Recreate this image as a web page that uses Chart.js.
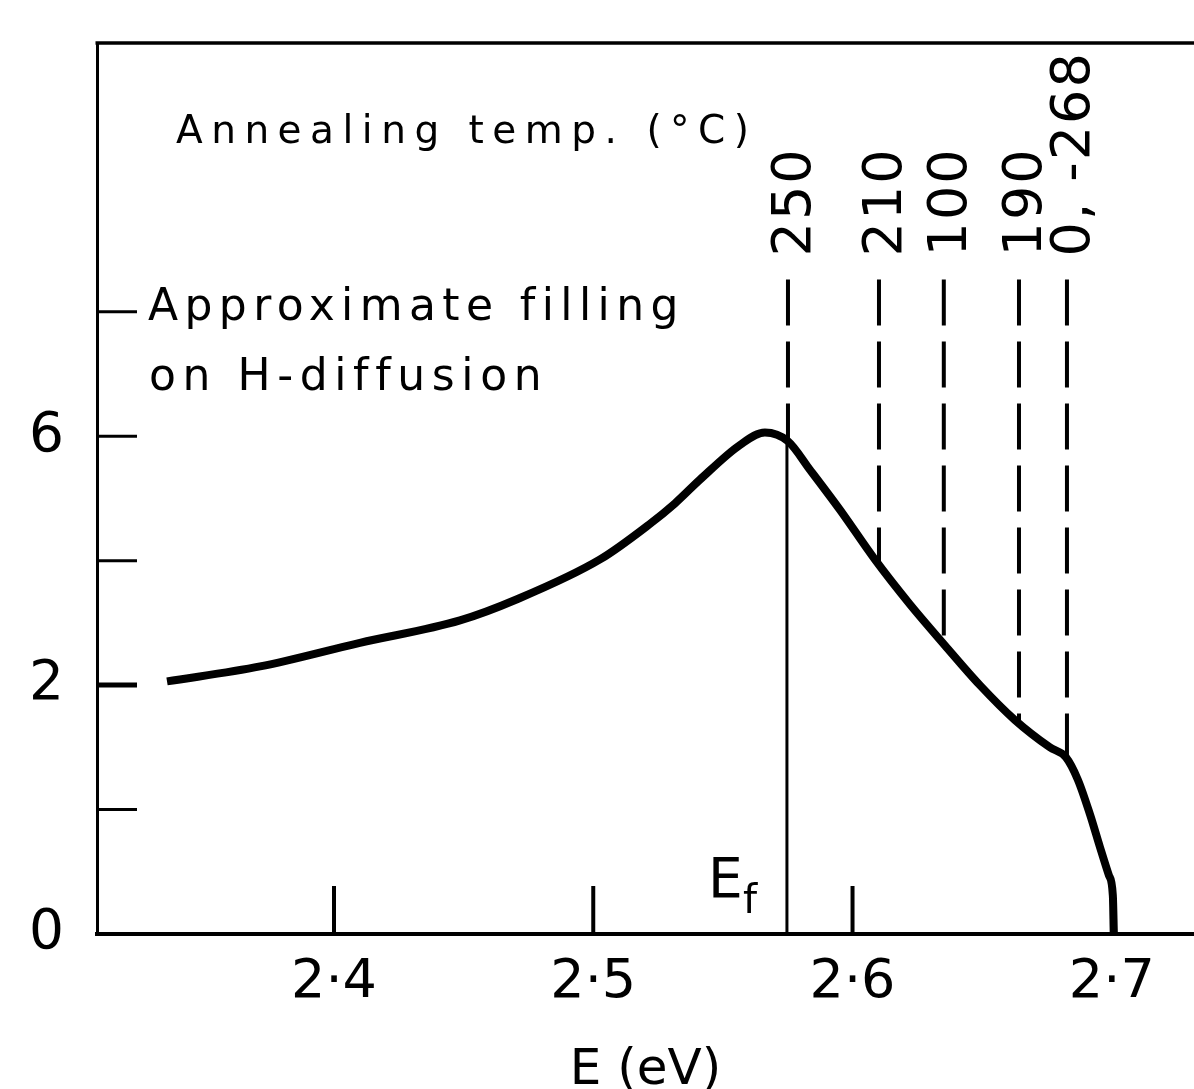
<!DOCTYPE html>
<html>
<head>
<meta charset="utf-8">
<script src="https://cdn.jsdelivr.net/npm/chart.js@4.4.1/dist/chart.umd.min.js"></script>
<style>
  html, body { margin: 0; padding: 0; background: #fff; }
  #wrap { width: 1194px; height: 1089px; position: relative; }
</style>
</head>
<body>
<div id="wrap"><canvas id="fillChart"></canvas></div>
<script>
// curve (x in eV, y in the figure's own tick units)
const energy = [2.3356, 2.3715, 2.4100, 2.4486, 2.4706, 2.5026, 2.5215, 2.5315, 2.5411, 2.5566,
                2.5662, 2.5751, 2.5836, 2.5951, 2.6086, 2.6221, 2.6356, 2.6491, 2.6626, 2.6761,
                2.6823, 2.6869, 2.6916, 2.6954, 2.6989, 2.7004, 2.7008];
const filling = [2.03, 2.15, 2.34, 2.52, 2.69, 3.01, 3.29, 3.46, 3.65, 3.93,
                 4.03, 3.96, 3.73, 3.41, 3.01, 2.65, 2.32, 2.00, 1.72, 1.50,
                 1.42, 1.24, 0.96, 0.70, 0.47, 0.31, 0];

// annealing temperatures and where their dashed markers meet the curve
const annealLabels = ['250', '210', '100', '190', '0, -268'];
const annealEnergy = [2.5751, 2.6102, 2.6352, 2.6642, 2.6827];
const annealFill = [3.96, 2.97, 2.32, 1.70, 1.42];
const annealTop = 5.26;

const fermiEnergy = 2.5747;
const fermiFill = 3.96;

const xTicks = [2.4, 2.5, 2.6, 2.7];
const xTickLabels = ['2·4', '2·5', '2·6', '2·7'];
const yTicks = [0, 1, 2, 3, 4, 5];
const yTickLabels = ['0', '', '2', '', '6', ''];

const FONT = '"DejaVu Sans", "Liberation Sans", sans-serif';

function drawText(ctx, text, px, py, size, spacing) {
    ctx.font = size + 'px ' + FONT;
    if ('letterSpacing' in ctx) ctx.letterSpacing = spacing + 'px';
    ctx.fillText(text, px, py);
    if ('letterSpacing' in ctx) ctx.letterSpacing = '0px';
}

function stroke(ctx, x1, y1, x2, y2) {
    ctx.beginPath();
    ctx.moveTo(x1, y1);
    ctx.lineTo(x2, y2);
    ctx.stroke();
}

const annotate = {
    id: 'annotate',
    afterDatasetsDraw(chart) {
        const ctx = chart.ctx;
        const area = chart.chartArea;
        const xs = chart.scales.x;
        const ys = chart.scales.y;

        ctx.save();
        ctx.strokeStyle = '#000';
        ctx.fillStyle = '#000';

        // top of the frame
        ctx.lineWidth = 3.5;
        stroke(ctx, area.left - 1.5, area.top, chart.width, area.top);

        // tick marks point inwards
        yTicks.forEach(v => {
            if (v === 0) return;
            const py = ys.getPixelForValue(v);
            ctx.lineWidth = v === 2 ? 5 : 3;
            stroke(ctx, area.left, py, area.left + 40, py);
        });
        ctx.lineWidth = 4;
        xTicks.forEach(v => {
            const px = xs.getPixelForValue(v);
            stroke(ctx, px, area.bottom, px, area.bottom - 48);
        });

        ctx.textAlign = 'left';
        ctx.textBaseline = 'alphabetic';

        drawText(ctx, 'Annealing temp. (°C)', area.left + 79, 143, 39, 8.5);
        drawText(ctx, 'Approximate filling', area.left + 51, 320, 44, 6.4);
        drawText(ctx, 'on H-diffusion', area.left + 52, 390, 44, 6.6);

        // E_f label beside the Fermi level line
        const fx = xs.getPixelForValue(fermiEnergy);
        drawText(ctx, 'E', fx - 79, 897, 55, 0);
        drawText(ctx, 'f', fx - 44, 913, 40, 0);

        // rotated temperature labels above the dashed markers
        const labelBottom = ys.getPixelForValue(annealTop) - 23;
        annealEnergy.forEach((e, i) => {
            ctx.save();
            ctx.translate(xs.getPixelForValue(e) + 22, labelBottom);
            ctx.rotate(-Math.PI / 2);
            drawText(ctx, annealLabels[i], 0, 0, 54, 2);
            ctx.restore();
        });

        ctx.restore();
    }
};

let datasets = [{
    data: energy.map((e, i) => ({x: e, y: filling[i]})),
    borderColor: '#000',
    borderWidth: 8,
    pointRadius: 0,
    cubicInterpolationMode: 'monotone',
    fill: false,
}, {
    data: [{x: fermiEnergy, y: 0}, {x: fermiEnergy, y: fermiFill}],
    borderColor: '#000',
    borderWidth: 3,
    pointRadius: 0,
    fill: false,
}];

annealEnergy.forEach((e, i) => {
    datasets.push({
        data: [{x: e, y: annealTop}, {x: e, y: annealFill[i]}],
        borderColor: '#000',
        borderWidth: 4,
        borderDash: [46, 16],
        pointRadius: 0,
        fill: false,
    });
});

new Chart(document.getElementById('fillChart'), {
    type: 'line',
    data: { datasets: datasets },
    options: {
        responsive: true,
        maintainAspectRatio: false,
        animation: false,
        layout: { padding: { top: 43, left: 0, right: 0, bottom: 0 } },
        plugins: {
            legend: { display: false },
            tooltip: { enabled: false },
        },
        scales: {
            x: {
                type: 'linear',
                min: 2.3086,
                max: 2.7317,
                afterBuildTicks: s => { s.ticks = xTicks.map(v => ({value: v})); },
                afterFit: s => { s.height = 155; s.paddingLeft = 0; s.paddingRight = 0; },
                grid: { display: false, drawTicks: false },
                border: { display: true, color: '#000', width: 4 },
                ticks: {
                    callback: (v, i) => xTickLabels[i],
                    color: '#000',
                    font: { family: FONT, size: 54 },
                    padding: 17,
                    maxRotation: 0,
                    autoSkip: false,
                },
                title: {
                    display: true,
                    text: 'E (eV)',
                    color: '#000',
                    font: { family: FONT, size: 50, lineHeight: 0.8 },
                    padding: { top: 0, bottom: -2 },
                },
            },
            y: {
                min: 0,
                max: 7.16,
                afterBuildTicks: s => { s.ticks = yTicks.map(v => ({value: v})); },
                afterFit: s => { s.width = 97; s.paddingTop = 0; s.paddingBottom = 0; },
                grid: { display: false, drawTicks: false },
                border: { display: true, color: '#000', width: 3 },
                ticks: {
                    callback: (v, i) => yTickLabels[i],
                    color: '#000',
                    font: { family: FONT, size: 55 },
                    padding: 33,
                    autoSkip: false,
                },
            },
        },
    },
    plugins: [annotate],
});
</script>
</body>
</html>
